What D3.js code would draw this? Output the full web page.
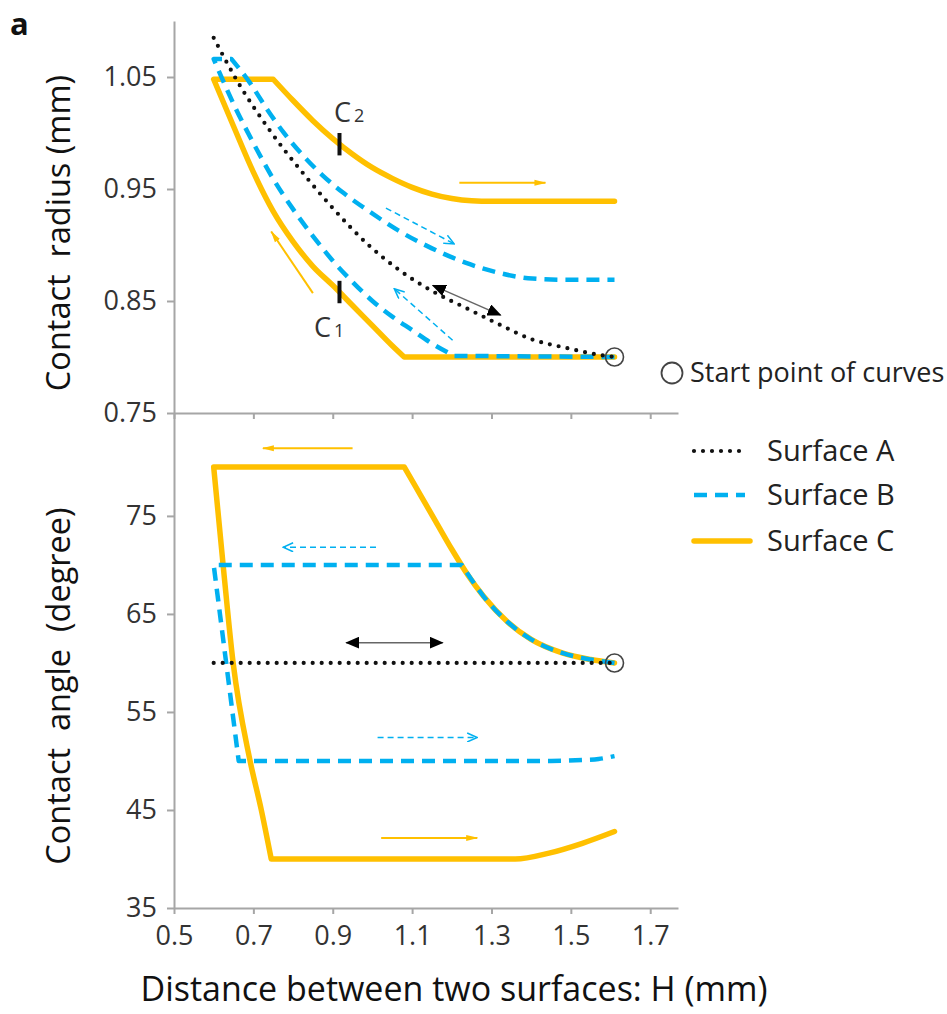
<!DOCTYPE html>
<html>
<head>
<meta charset="utf-8">
<script src="https://cdn.jsdelivr.net/npm/d3@7"></script>
<style>
  body { margin: 0; background: #fff; }
  svg { font-family: "Open Sans", sans-serif; }
</style>
</head>
<body>
<div id="chart"></div>
<script>
// axis ticks
const xTicks = [0.5, 0.7, 0.9, 1.1, 1.3, 1.5, 1.7];
const radiusTicks = [0.75, 0.85, 0.95, 1.05];
const angleTicks = [35, 45, 55, 65, 75];
const seriesNames = ["Surface A", "Surface B", "Surface C"];

// contact radius (mm) vs H (mm); each series is split into pieces at its corners
const radiusA = [
  [[0.60, 1.085], [0.66, 1.046], [0.74, 1.003], [0.83, 0.962], [0.90, 0.933], [0.99, 0.900],
   [1.07, 0.877], [1.15, 0.859], [1.24, 0.843], [1.32, 0.829], [1.40, 0.816], [1.49, 0.808],
   [1.57, 0.802], [1.61, 0.800]]
];
const radiusB = [
  [[1.61, 0.800], [1.206, 0.801]],
  [[1.206, 0.801], [1.15, 0.812], [1.10, 0.824], [1.05, 0.836], [1.00, 0.850], [0.95, 0.867],
   [0.90, 0.886], [0.85, 0.908], [0.80, 0.932], [0.75, 0.959], [0.70, 0.991], [0.65, 1.026],
   [0.600, 1.066]],
  [[0.600, 1.066], [0.645, 1.066]],
  [[0.645, 1.066], [0.691, 1.045], [0.733, 1.022], [0.775, 1.001], [0.825, 0.980], [0.875, 0.962],
   [0.925, 0.947], [0.992, 0.930], [1.065, 0.913], [1.15, 0.897], [1.236, 0.884], [1.32, 0.875],
   [1.403, 0.870], [1.49, 0.869], [1.61, 0.869]]
];
const radiusC = [
  [[1.61, 0.800], [1.08, 0.800]],
  [[1.08, 0.800], [1.05, 0.810], [1.00, 0.828], [0.95, 0.846], [0.90, 0.864], [0.85, 0.881],
   [0.80, 0.903], [0.75, 0.930], [0.70, 0.965], [0.65, 1.006], [0.600, 1.048]],
  [[0.600, 1.048], [0.750, 1.048]],
  [[0.750, 1.048], [0.80, 1.029], [0.85, 1.011], [0.90, 0.995], [0.95, 0.981], [1.00, 0.969],
   [1.05, 0.9595], [1.10, 0.9515], [1.15, 0.9455], [1.20, 0.9415], [1.25, 0.9395], [1.30, 0.939],
   [1.61, 0.939]]
];

// contact angle (degree) vs H (mm)
const angleA = [
  [[0.60, 60], [1.61, 60]]
];
const angleB = [
  [[1.61, 60], [1.55, 60.35], [1.48, 61.0], [1.40, 62.4], [1.34, 64.2], [1.28, 66.8], [1.225, 70]],
  [[1.225, 70], [0.60, 70]],
  [[0.60, 70], [0.663, 50]],
  [[0.663, 50], [1.0, 50], [1.45, 50], [1.53, 50.1], [1.57, 50.2], [1.61, 50.5]]
];
const angleC = [
  [[1.61, 60], [1.55, 60.35], [1.48, 61.0], [1.40, 62.4], [1.34, 64.2], [1.28, 66.8], [1.24, 69.0],
   [1.20, 71.6], [1.16, 74.4], [1.12, 77.2], [1.08, 80]],
  [[1.08, 80], [0.60, 80]],
  [[0.60, 80], [0.624, 69.9], [0.649, 60], [0.691, 50.15], [0.72, 45], [0.745, 40]],
  [[0.745, 40], [1.0, 40], [1.2, 40], [1.36, 40], [1.445, 40.6], [1.529, 41.6], [1.61, 42.8]]
];

// start point of all curves
const startPoint = { h: 1.61, radius: 0.80, angle: 60 };

// direction arrows [H, value]
const radiusArrows = [
  { s: "C", from: [0.850, 0.857], to: [0.745, 0.912] },
  { s: "C", from: [1.219, 0.9555], to: [1.436, 0.9555] },
  { s: "B", from: [1.034, 0.933], to: [1.206, 0.901] },
  { s: "B", from: [1.202, 0.815], to: [1.055, 0.861] },
  { s: "A", from: [1.152, 0.864], to: [1.323, 0.8374], both: true }
];
const angleArrows = [
  { s: "C", from: [0.95, 81.9], to: [0.724, 81.9] },
  { s: "B", from: [1.009, 71.8], to: [0.775, 71.8] },
  { s: "A", from: [0.934, 62.07], to: [1.177, 62.07], both: true },
  { s: "B", from: [1.013, 52.4], to: [1.264, 52.4] },
  { s: "C", from: [1.022, 42.15], to: [1.264, 42.15] }
];

// C1 / C2 markers on surface C radius curve
const cMarks = [
  { sub: "2", h: 0.917, r: 0.990, labelH: 0.903, labelR: 1.010 },
  { sub: "1", h: 0.917, r: 0.858, labelH: 0.853, labelR: 0.818 }
];

const width = 947, height = 1014;
const colors = { A: "#111111", B: "#00B0F0", C: "#FFC000" };

const svg = d3.select("#chart").append("svg")
    .attr("width", width)
    .attr("height", height);

const x = d3.scaleLinear().domain([0.5, 1.77]).range([174, 678]);
const yR = d3.scaleLinear().domain([0.75, 1.10]).range([413, 21]);
const yA = d3.scaleLinear().domain([35, 85.5]).range([908, 413]);

// markers for the direction arrows
const defs = svg.append("defs");
defs.append("marker").attr("id", "headC")
    .attr("markerUnits", "userSpaceOnUse").attr("viewBox", "0 0 12 8")
    .attr("refX", 11).attr("refY", 4).attr("markerWidth", 12).attr("markerHeight", 8)
    .attr("orient", "auto")
  .append("path").attr("d", "M0,1 L12,4 L0,7 Z").attr("fill", colors.C);
defs.append("marker").attr("id", "headB")
    .attr("markerUnits", "userSpaceOnUse").attr("viewBox", "0 0 12 10")
    .attr("refX", 11).attr("refY", 5).attr("markerWidth", 12).attr("markerHeight", 10)
    .attr("orient", "auto")
  .append("path").attr("d", "M1,0.5 L11,5 L1,9.5").attr("fill", "none")
    .attr("stroke", colors.B).attr("stroke-width", 1.5);
defs.append("marker").attr("id", "headA")
    .attr("markerUnits", "userSpaceOnUse").attr("viewBox", "0 0 14 12")
    .attr("refX", 13).attr("refY", 6).attr("markerWidth", 14).attr("markerHeight", 12)
    .attr("orient", "auto-start-reverse")
  .append("path").attr("d", "M0,0 L14,6 L0,12 Z").attr("fill", "#000");

// axes
function styleAxis(g) {
  g.selectAll("path, line").attr("stroke", "#a6a6a6").attr("stroke-width", 2);
  g.selectAll("text").attr("font-size", 27).attr("fill", "#333")
    .attr("font-family", "'Open Sans', sans-serif");
}

svg.append("g")
    .attr("transform", `translate(${x(0.5)},0)`)
    .call(d3.axisLeft(yR).tickValues(radiusTicks).tickFormat(d3.format(".2f"))
      .tickSize(7).tickSizeOuter(0).tickPadding(10))
    .call(styleAxis);

svg.append("g")
    .attr("transform", `translate(${x(0.5)},0)`)
    .call(d3.axisLeft(yA).tickValues(angleTicks).tickFormat(d3.format("d"))
      .tickSize(7).tickSizeOuter(0).tickPadding(10))
    .call(styleAxis);

svg.append("g")
    .attr("transform", `translate(0,${yR(0.75)})`)
    .call(d3.axisBottom(x).tickValues(xTicks).tickFormat("").tickSize(6).tickSizeOuter(0))
    .call(styleAxis);

svg.append("g")
    .attr("transform", `translate(0,${yA(35)})`)
    .call(d3.axisBottom(x).tickValues(xTicks).tickFormat(d3.format(".1f"))
      .tickSize(6).tickSizeOuter(0).tickPadding(12))
    .call(styleAxis);

// axis titles
svg.append("text")
    .attr("transform", "translate(70,233) rotate(-90)")
    .attr("text-anchor", "middle")
    .attr("font-size", 32.5).attr("fill", "#111")
    .text("Contact\u00a0 radius (mm)");

svg.append("text")
    .attr("transform", "translate(70,686) rotate(-90)")
    .attr("text-anchor", "middle")
    .attr("font-size", 32.5).attr("fill", "#111")
    .text("Contact\u00a0 angle\u00a0 (degree)");

svg.append("text")
    .attr("x", 454).attr("y", 1001)
    .attr("text-anchor", "middle")
    .attr("font-size", 34).attr("fill", "#111")
    .text("Distance between two surfaces: H (mm)");

svg.append("text")
    .attr("x", 10).attr("y", 35)
    .attr("font-size", 31).attr("font-weight", "bold").attr("fill", "#111")
    .text("a");

// series paths: pieces joined into one path so dashes flow round corners
function seriesPath(pieces, y) {
  const p = d3.path();
  let started = false;
  const ctx = {
    moveTo(a, b) { if (started) p.lineTo(a, b); else { p.moveTo(a, b); started = true; } },
    lineTo(a, b) { p.lineTo(a, b); },
    bezierCurveTo(a, b, c, d, e, f) { p.bezierCurveTo(a, b, c, d, e, f); },
    closePath() { p.closePath(); }
  };
  const line = d3.line().x(d => x(d[0])).y(d => y(d[1])).curve(d3.curveMonotoneX).context(ctx);
  pieces.forEach(piece => line(piece));
  return p.toString();
}

const styles = {
  A: { width: 4.2, dash: "0 9", cap: "round" },
  B: { width: 4.5, dash: "13 8", cap: "butt" },
  C: { width: 5.5, dash: null, cap: "round" }
};

function drawSeries(pieces, y, key) {
  const st = styles[key];
  svg.append("path")
      .attr("d", seriesPath(pieces, y))
      .attr("fill", "none")
      .attr("stroke", colors[key])
      .attr("stroke-width", st.width)
      .attr("stroke-dasharray", st.dash)
      .attr("stroke-linecap", st.cap)
      .attr("stroke-linejoin", "round");
}

drawSeries(radiusC, yR, "C");
drawSeries(radiusB, yR, "B");
drawSeries(radiusA, yR, "A");
drawSeries(angleC, yA, "C");
drawSeries(angleB, yA, "B");
drawSeries(angleA, yA, "A");

// direction arrows
function drawArrows(list, y) {
  svg.append("g").selectAll("line")
    .data(list)
    .enter()
    .append("line")
      .attr("x1", d => x(d.from[0])).attr("y1", d => y(d.from[1]))
      .attr("x2", d => x(d.to[0])).attr("y2", d => y(d.to[1]))
      .attr("stroke", d => d.s === "A" ? "#666" : colors[d.s])
      .attr("stroke-width", d => d.s === "C" ? 2 : 1.5)
      .attr("stroke-dasharray", d => d.s === "B" ? "6 4" : null)
      .attr("marker-end", d => `url(#head${d.s})`)
      .attr("marker-start", d => d.both ? `url(#head${d.s})` : null);
}
drawArrows(radiusArrows, yR);
drawArrows(angleArrows, yA);

// C1, C2 marks
cMarks.forEach(m => {
  svg.append("line")
      .attr("x1", x(m.h)).attr("x2", x(m.h))
      .attr("y1", yR(m.r - 0.01)).attr("y2", yR(m.r + 0.01))
      .attr("stroke", "#111").attr("stroke-width", 4);
  const t = svg.append("text")
      .attr("x", x(m.labelH)).attr("y", yR(m.labelR))
      .attr("font-size", 27).attr("fill", "#333")
      .text("C");
  t.append("tspan").attr("font-size", 18).attr("dx", 3).text(m.sub);
});

// start point circles
svg.append("circle").attr("cx", x(startPoint.h)).attr("cy", yR(startPoint.radius)).attr("r", 9)
    .attr("fill", "none").attr("stroke", "#444").attr("stroke-width", 1.6);
svg.append("circle").attr("cx", x(startPoint.h)).attr("cy", yA(startPoint.angle)).attr("r", 9)
    .attr("fill", "none").attr("stroke", "#444").attr("stroke-width", 1.6);

// legend
const legend = svg.append("g");
legend.append("circle").attr("cx", 672).attr("cy", 373).attr("r", 10.5)
    .attr("fill", "none").attr("stroke", "#444").attr("stroke-width", 1.8);
legend.append("text").attr("x", 690).attr("y", 373).attr("dy", "0.35em")
    .attr("font-size", 27).attr("fill", "#222")
    .text("Start point of curves");

const legendKeys = ["A", "B", "C"];
const legendY = [451, 495, 541];
legendKeys.forEach((k, i) => {
  const st = styles[k];
  legend.append("line")
      .attr("x1", 694).attr("x2", k === "C" ? 750 : 745)
      .attr("y1", legendY[i]).attr("y2", legendY[i])
      .attr("stroke", colors[k]).attr("stroke-width", st.width)
      .attr("stroke-dasharray", k === "A" ? "0 9" : st.dash)
      .attr("stroke-linecap", st.cap);
  legend.append("text")
      .attr("x", 767).attr("y", legendY[i]).attr("dy", "0.35em")
      .attr("font-size", 29).attr("fill", "#222")
      .text(seriesNames[i]);
});
</script>
</body>
</html>
